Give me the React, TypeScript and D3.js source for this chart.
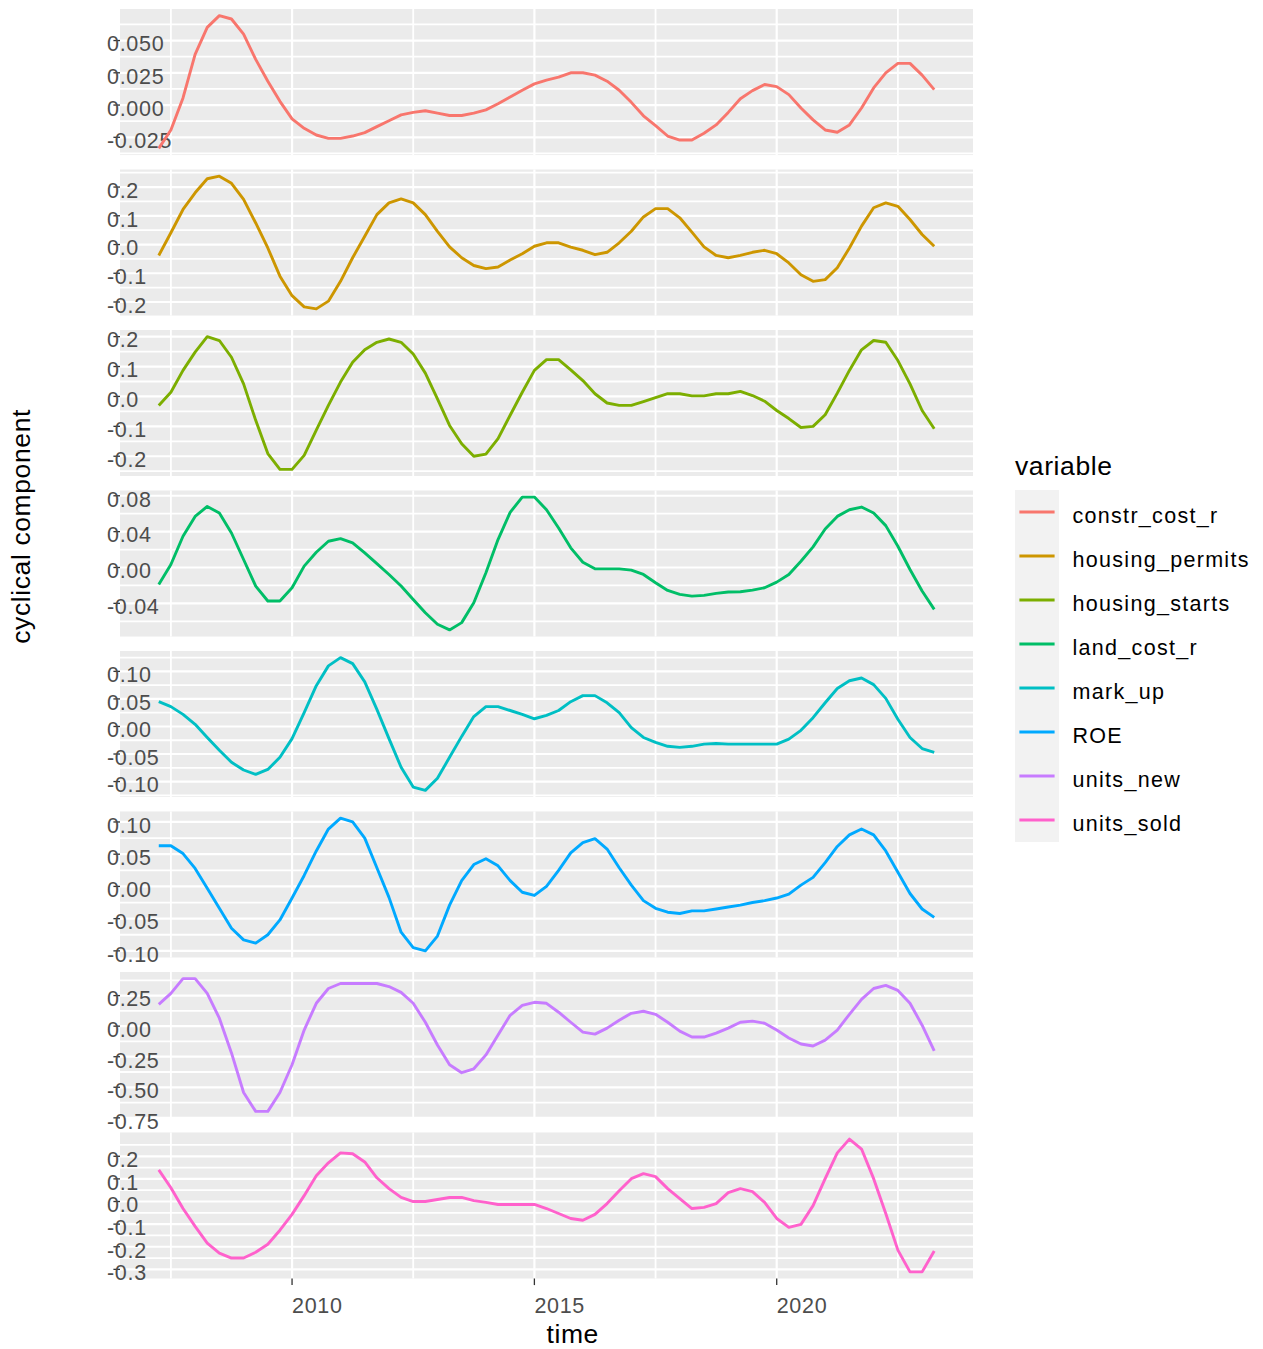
import React from 'react';
import * as d3 from 'd3';

// Quarterly observations, 2007Q1 .. 2023Q1 (plotted at quarter end)
const firstQuarter = 2007.25;
const quarterStep = 0.25;

const variables = [
  'constr_cost_r',
  'housing_permits',
  'housing_starts',
  'land_cost_r',
  'mark_up',
  'ROE',
  'units_new',
  'units_sold',
];

const seriesColors = ['#F8766D', '#CD9600', '#7CAE00', '#00BE67', '#00BFC4', '#00A9FF', '#C77CFF', '#FF61CC'];

const constrCostR = [
  -0.0336, -0.0193, 0.0055, 0.0393, 0.0602, 0.0693, 0.0667, 0.0549, 0.0354, 0.0185,
  0.0029, -0.0107, -0.018, -0.0232, -0.0258, -0.0258, -0.024, -0.0214, -0.0167, -0.0122,
  -0.0076, -0.0057, -0.0044, -0.0063, -0.0081, -0.0081, -0.0063, -0.0037, 0.001, 0.0063,
  0.0115, 0.0164, 0.0193, 0.0216, 0.025, 0.025, 0.0232, 0.0185, 0.0115, 0.0021,
  -0.0083, -0.0159, -0.024, -0.0271, -0.0271, -0.0219, -0.0154, -0.0057, 0.0049, 0.0112,
  0.0159, 0.0143, 0.0081, -0.0023, -0.0115, -0.0193, -0.0211, -0.0154, -0.0023, 0.0133,
  0.025, 0.0323, 0.0323, 0.0232, 0.012,
];

const housingPermits = [
  -0.038, 0.041, 0.122, 0.18, 0.229, 0.238, 0.213, 0.157, 0.075, -0.012,
  -0.11, -0.178, -0.217, -0.224, -0.197, -0.128, -0.046, 0.029, 0.104, 0.145,
  0.159, 0.145, 0.104, 0.046, -0.008, -0.046, -0.073, -0.084, -0.078, -0.054,
  -0.032, -0.006, 0.006, 0.006, -0.009, -0.02, -0.035, -0.027, 0.006, 0.046,
  0.096, 0.125, 0.125, 0.093, 0.043, -0.008, -0.038, -0.046, -0.038, -0.027,
  -0.02, -0.032, -0.064, -0.105, -0.128, -0.122, -0.081, -0.012, 0.064, 0.128,
  0.145, 0.133, 0.087, 0.035, -0.006,
];

const housingStarts = [
  -0.03, 0.014, 0.087, 0.148, 0.2, 0.187, 0.131, 0.042, -0.08, -0.191,
  -0.244, -0.244, -0.197, -0.113, -0.03, 0.048, 0.114, 0.156, 0.181, 0.192,
  0.181, 0.142, 0.078, -0.008, -0.097, -0.158, -0.2, -0.193, -0.141, -0.063,
  0.014, 0.087, 0.123, 0.123, 0.089, 0.053, 0.009, -0.022, -0.03, -0.03,
  -0.017, -0.004, 0.009, 0.009, 0.002, 0.002, 0.009, 0.009, 0.017, 0.003,
  -0.016, -0.047, -0.074, -0.104, -0.1, -0.061, 0.011, 0.087, 0.156, 0.187,
  0.181, 0.12, 0.042, -0.047, -0.108,
];

const landCostR = [
  -0.0189, 0.0033, 0.0348, 0.057, 0.0681, 0.0607, 0.0385, 0.0089, -0.0207, -0.0374,
  -0.0374, -0.0226, 0.0015, 0.017, 0.0293, 0.0322, 0.0274, 0.0163, 0.0044, -0.0078,
  -0.0207, -0.0356, -0.0504, -0.0633, -0.0696, -0.0615, -0.0393, -0.0059, 0.0311, 0.0615,
  0.0785, 0.0785, 0.0644, 0.0441, 0.0219, 0.0059, -0.0015, -0.0015, -0.0015, -0.003,
  -0.0078, -0.017, -0.0256, -0.03, -0.0319, -0.0311, -0.0289, -0.0274, -0.027, -0.0252,
  -0.0226, -0.0163, -0.0078, 0.007, 0.023, 0.043, 0.057, 0.0644, 0.0674, 0.0607,
  0.0467, 0.0237, -0.0022, -0.0263, -0.0467,
];

const markUp = [
  0.045, 0.036, 0.022, 0.004, -0.02, -0.043, -0.065, -0.079, -0.087, -0.078,
  -0.056, -0.022, 0.025, 0.074, 0.11, 0.125, 0.114, 0.081, 0.031, -0.022,
  -0.074, -0.11, -0.116, -0.094, -0.056, -0.018, 0.018, 0.036, 0.036, 0.029,
  0.022, 0.014, 0.02, 0.029, 0.045, 0.056, 0.056, 0.043, 0.025, -0.002,
  -0.02, -0.029, -0.036, -0.038, -0.036, -0.032, -0.031, -0.032, -0.032, -0.032,
  -0.032, -0.032, -0.023, -0.007, 0.016, 0.043, 0.069, 0.083, 0.088, 0.076,
  0.051, 0.013, -0.02, -0.04, -0.047,
];

const roe = [
  0.063, 0.063, 0.051, 0.028, -0.003, -0.034, -0.065, -0.083, -0.088, -0.075,
  -0.052, -0.018, 0.017, 0.055, 0.089, 0.106, 0.1, 0.075, 0.029, -0.017,
  -0.071, -0.095, -0.1, -0.077, -0.029, 0.009, 0.034, 0.043, 0.032, 0.009,
  -0.009, -0.014, 0.0, 0.025, 0.052, 0.068, 0.074, 0.058, 0.029, 0.002,
  -0.022, -0.034, -0.04, -0.042, -0.038, -0.038, -0.035, -0.032, -0.029, -0.025,
  -0.022, -0.018, -0.012, 0.002, 0.014, 0.037, 0.062, 0.08, 0.089, 0.08,
  0.055, 0.022, -0.011, -0.035, -0.048,
];

const unitsNew = [
  0.178, 0.268, 0.389, 0.389, 0.268, 0.065, -0.219, -0.543, -0.697, -0.697,
  -0.543, -0.316, -0.032, 0.187, 0.308, 0.349, 0.349, 0.349, 0.349, 0.324,
  0.276, 0.187, 0.032, -0.154, -0.316, -0.381, -0.349, -0.235, -0.073, 0.089,
  0.17, 0.195, 0.187, 0.114, 0.032, -0.049, -0.065, -0.016, 0.049, 0.105,
  0.122, 0.097, 0.032, -0.041, -0.089, -0.089, -0.057, -0.016, 0.032, 0.041,
  0.024, -0.032, -0.097, -0.146, -0.162, -0.114, -0.032, 0.097, 0.219, 0.308,
  0.333, 0.292, 0.187, 0.008, -0.203,
];

const unitsSold = [
  0.14, 0.061, -0.031, -0.11, -0.184, -0.228, -0.25, -0.25, -0.224, -0.189,
  -0.127, -0.057, 0.026, 0.114, 0.171, 0.215, 0.211, 0.175, 0.105, 0.057,
  0.018, 0.0, 0.0, 0.009, 0.018, 0.018, 0.004, -0.004, -0.013, -0.013,
  -0.013, -0.013, -0.031, -0.053, -0.075, -0.083, -0.057, -0.009, 0.048, 0.101,
  0.123, 0.11, 0.057, 0.013, -0.031, -0.026, -0.009, 0.039, 0.057, 0.044,
  -0.004, -0.075, -0.114, -0.101, -0.018, 0.101, 0.215, 0.276, 0.232, 0.101,
  -0.053, -0.215, -0.311, -0.311, -0.219,
];

const seriesValues = [constrCostR, housingPermits, housingStarts, landCostR, markUp, roe, unitsNew, unitsSold];

// y-axis breaks for each facet
const constrCostTicks = [-0.025, 0, 0.025, 0.05];
const permitsTicks = [-0.2, -0.1, 0, 0.1, 0.2];
const startsTicks = [-0.2, -0.1, 0, 0.1, 0.2];
const landCostTicks = [-0.04, 0, 0.04, 0.08];
const markUpTicks = [-0.1, -0.05, 0, 0.05, 0.1];
const roeTicks = [-0.1, -0.05, 0, 0.05, 0.1];
const unitsNewTicks = [-0.75, -0.5, -0.25, 0, 0.25];
const unitsSoldTicks = [-0.3, -0.2, -0.1, 0, 0.1, 0.2];
const yTickSets = [constrCostTicks, permitsTicks, startsTicks, landCostTicks, markUpTicks, roeTicks, unitsNewTicks, unitsSoldTicks];

const xTicks = [2010, 2015, 2020];

const W = 1263;
const H = 1349;
const panelLeft = 120;
const panelRight = 973;
const panelsTop = 9;
const panelsBottom = 1278.5;

const FONT = '"Liberation Sans", Arial, Helvetica, sans-serif';
const AXIS_TEXT = '#4D4D4D';
const TICK = '#333333';
const PANEL_BG = '#EBEBEB';
const LINE_W = 2.9;

function expand(ext: [number, number], mult = 0.05): [number, number] {
  const pad = (ext[1] - ext[0]) * mult;
  return [ext[0] - pad, ext[1] + pad];
}

function minorBreaks(major: number[], domain: [number, number]): number[] {
  const step = major[1] - major[0];
  const out: number[] = [];
  const candidates = [major[0] - step / 2, ...major.map((m) => m + step / 2)];
  candidates.forEach((c) => {
    if (c >= domain[0] && c <= domain[1]) out.push(c);
  });
  return out;
}

// common number of decimals so every break in a set is shown exactly
function decimalsFor(breaks: number[]): number {
  let d = 0;
  while (d < 6 && breaks.some((b) => Math.abs(Math.round(b * 10 ** d) - b * 10 ** d) > 1e-7)) d += 1;
  return d;
}

function fmt(v: number, digits: number): string {
  const s = Math.abs(v) < 1e-12 ? 0 : v;
  return s.toFixed(digits);
}

export default function App() {
  const times = constrCostR.map((_, i) => firstQuarter + i * quarterStep);
  const x = d3
    .scaleLinear()
    .domain(expand(d3.extent(times) as [number, number]))
    .range([panelLeft, panelRight]);

  const band = d3.scaleBand<string>().domain(variables).range([panelsTop, panelsBottom]).paddingInner(0.09).paddingOuter(0);

  const xDomain = x.domain() as [number, number];
  const xMinor = minorBreaks(xTicks, xDomain);

  const legendTop = 490;
  const keySize = 44;
  const legendX = 1015;

  return (
    <svg
      width={W}
      height={H}
      viewBox={`0 0 ${W} ${H}`}
      style={{ position: 'absolute', left: 0, top: 0, background: '#FFFFFF' }}
      fontFamily={FONT}
    >
      <rect x={0} y={0} width={W} height={H} fill="#FFFFFF" />
      {variables.map((name, k) => {
        const values = seriesValues[k];
        const top = band(name) as number;
        const h = band.bandwidth();
        const yDomain = expand(d3.extent(values) as [number, number]);
        const y = d3.scaleLinear().domain(yDomain).range([top + h, top]);
        const major = yTickSets[k];
        const digits = decimalsFor(major);
        const minor = minorBreaks(major, yDomain);
        const line = d3
          .line<number>()
          .x((_, i) => x(times[i]))
          .y((v) => y(v));
        return (
          <g key={name}>
            <rect x={panelLeft} y={top} width={panelRight - panelLeft} height={h} fill={PANEL_BG} />
            {minor.map((m) => (
              <line key={`ym${m}`} x1={panelLeft} x2={panelRight} y1={y(m)} y2={y(m)} stroke="#FFFFFF" strokeWidth={1.8} />
            ))}
            {xMinor.map((m) => (
              <line key={`xm${m}`} x1={x(m)} x2={x(m)} y1={top} y2={top + h} stroke="#FFFFFF" strokeWidth={1.8} />
            ))}
            {major.map((m) => (
              <line key={`yM${m}`} x1={panelLeft} x2={panelRight} y1={y(m)} y2={y(m)} stroke="#FFFFFF" strokeWidth={2.2} />
            ))}
            {xTicks.map((m) => (
              <line key={`xM${m}`} x1={x(m)} x2={x(m)} y1={top} y2={top + h} stroke="#FFFFFF" strokeWidth={2.2} />
            ))}
            {major.map((m) => (
              <g key={`yt${m}`}>
                <line x1={113.4} x2={panelLeft} y1={y(m)} y2={y(m)} stroke={TICK} strokeWidth={1.3} />
                <text x={107} y={y(m) + 10.8} fontSize={21.5} fill={AXIS_TEXT} letterSpacing={0.7}>
                  {fmt(m, digits)}
                </text>
              </g>
            ))}
            <path d={line(values) || ''} fill="none" stroke={seriesColors[k]} strokeWidth={LINE_W} strokeLinejoin="round" />
          </g>
        );
      })}

      {/* x axis */}
      {xTicks.map((t) => (
        <g key={`xt${t}`}>
          <line x1={x(t)} x2={x(t)} y1={panelsBottom} y2={panelsBottom + 6.6} stroke={TICK} strokeWidth={1.3} />
          <text x={x(t)} y={1313} fontSize={21.5} fill={AXIS_TEXT} letterSpacing={0.7}>
            {String(t)}
          </text>
        </g>
      ))}

      {/* axis titles */}
      <text x={(panelLeft + panelRight) / 2} y={1343} fontSize={26.5} fill="#000000" letterSpacing={0.6}>
        time
      </text>
      <text
        transform={`translate(30, ${(panelsTop + panelsBottom) / 2}) rotate(-90)`}
        fontSize={26.5}
        fill="#000000"
        letterSpacing={0.6}
      >
        cyclical component
      </text>

      {/* legend */}
      <text x={legendX} y={475} fontSize={26.5} fill="#000000" letterSpacing={0.6}>
        variable
      </text>
      {variables.map((name, k) => {
        const ky = legendTop + k * keySize;
        return (
          <g key={`lg${name}`}>
            <rect x={legendX} y={ky} width={keySize} height={keySize} fill="#F2F2F2" />
            <line x1={legendX + 4.4} x2={legendX + keySize - 4.4} y1={ky + keySize / 2} y2={ky + keySize / 2} stroke={seriesColors[k]} strokeWidth={LINE_W} />
            <text x={1072.5} y={ky + keySize / 2 + 10.5} fontSize={21.5} fill="#000000" letterSpacing={1.3}>
              {name}
            </text>
          </g>
        );
      })}
    </svg>
  );
}
